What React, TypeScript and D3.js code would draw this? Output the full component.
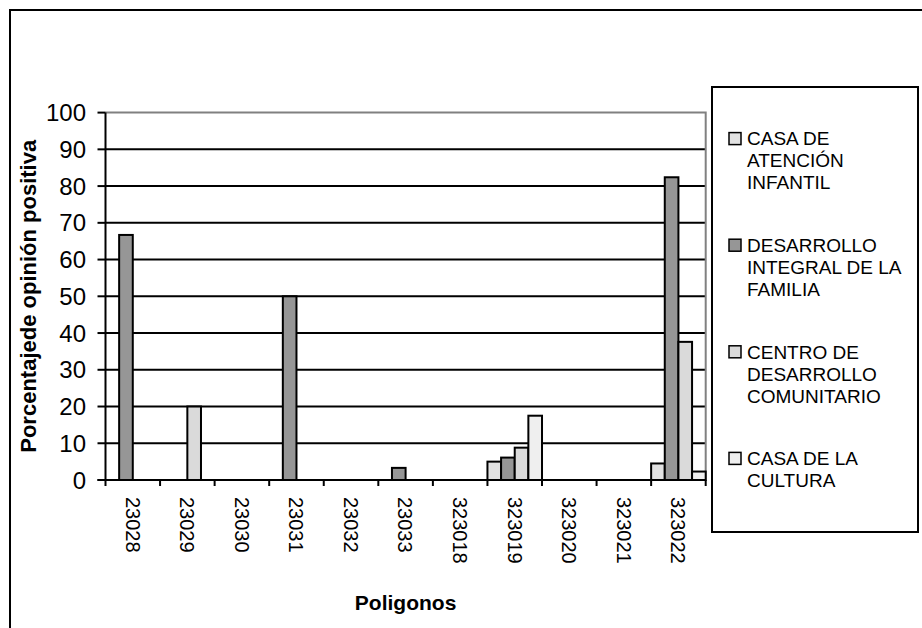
import React from 'react';
import * as d3 from 'd3';

const categories = ['23028', '23029', '23030', '23031', '23032', '23033', '323018', '323019', '323020', '323021', '323022'];
const seriesNames = [
  ['CASA DE', 'ATENCIÓN', 'INFANTIL'],
  ['DESARROLLO', 'INTEGRAL DE LA', 'FAMILIA'],
  ['CENTRO DE', 'DESARROLLO', 'COMUNITARIO'],
  ['CASA DE LA', 'CULTURA'],
];
const casaAtencion = [0, 0, 0, 0, 0, 0, 0, 5, 0, 0, 4.5];
const desarrolloIntegral = [66.7, 0, 0, 50, 0, 3.3, 0, 6.1, 0, 0, 82.4];
const centroDesarrollo = [0, 20, 0, 0, 0, 0, 0, 8.8, 0, 0, 37.6];
const casaCultura = [0, 0, 0, 0, 0, 0, 0, 17.5, 0, 0, 2.3];
const yTicks = [0, 10, 20, 30, 40, 50, 60, 70, 80, 90, 100];
const colors = ['#e2e2e2', '#969696', '#dadada', '#efefef'];

const allSeries = [casaAtencion, desarrolloIntegral, centroDesarrollo, casaCultura];

export default function App() {
  const W = 922, H = 628;
  const left = 105.5, right = 705.7, top = 112.6, bottom = 480;
  const x = d3.scaleBand().domain(categories).range([left, right]).paddingInner(0).paddingOuter(0);
  const xs = d3.scaleBand().domain(d3.range(4).map(String)).range([0, x.bandwidth()]).padding(0);
  const y = d3.scaleLinear().domain([0, 100]).range([bottom, top]);
  const font = 'Liberation Sans, Arial, sans-serif';

  const bars: JSX.Element[] = [];
  allSeries.forEach((vals, si) => {
    vals.forEach((v, ci) => {
      if (v <= 0) return;
      const bx = (x(categories[ci]) as number) + (xs(String(si)) as number);
      bars.push(
        <rect key={`b${si}-${ci}`} x={bx} y={y(v)} width={xs.bandwidth()} height={y(0) - y(v)}
          fill={colors[si]} stroke="#000" strokeWidth={2} />
      );
    });
  });

  const legX = 712, legY = 87, legW = 206, legH = 445;
  const legFont = 19, lineStep = 22;
  const totalLines = d3.sum(seriesNames, s => s.length);
  const gap = (legH - totalLines * lineStep) / (seriesNames.length + 1);
  const groupTops: number[] = [];
  let cur = legY + gap;
  seriesNames.forEach(s => { groupTops.push(cur); cur += s.length * lineStep + gap; });

  return (
    <svg width={W} height={H} style={{ position: 'absolute', left: 0, top: 0, background: '#fff' }} fontFamily={font}>
      <rect x={0} y={0} width={W} height={H} fill="#fff" />
      <path d={`M10,${H + 5} L10,10 L${W + 5},10`} fill="none" stroke="#000" strokeWidth={2} />
      {yTicks.filter(t => t > 0 && t < 100).map(t => (
        <line key={`g${t}`} x1={left} x2={right} y1={y(t)} y2={y(t)} stroke="#000" strokeWidth={2} />
      ))}
      <path d={`M${left},${top} L${right},${top} L${right},${bottom}`} fill="none" stroke="#808080" strokeWidth={2} />
      {bars}
      <line x1={left} x2={left} y1={top} y2={bottom + 6} stroke="#000" strokeWidth={2} />
      <line x1={left - 8} x2={right} y1={bottom} y2={bottom} stroke="#000" strokeWidth={2} />
      {yTicks.map(t => (
        <g key={`yt${t}`}>
          <line x1={left - 8} x2={left} y1={y(t)} y2={y(t)} stroke="#000" strokeWidth={2} />
          <text x={86} y={y(t)} dy="0.36em" textAnchor="end" fontSize={24} fill="#000">{t}</text>
        </g>
      ))}
      {categories.map((c, i) => (
        <line key={`xt${i}`} x1={(x(c) as number) + x.bandwidth()} x2={(x(c) as number) + x.bandwidth()}
          y1={bottom} y2={bottom + 6} stroke="#000" strokeWidth={2} />
      ))}
      {categories.map(c => {
        const cx = (x(c) as number) + x.bandwidth() / 2;
        return (
          <text key={`xl${c}`} transform={`translate(${cx},497) rotate(90)`} dy="0.36em"
            textAnchor="start" fontSize={20} fill="#000">{c}</text>
        );
      })}
      <text x={(left + right) / 2} y={610} textAnchor="middle" fontSize={21} fontWeight="bold" fill="#000">Poligonos</text>
      <text transform={`translate(28,${(top + bottom) / 2}) rotate(-90)`} dy="0.36em" textAnchor="middle"
        fontSize={22} fontWeight="bold" fill="#000">Porcentajede opinión positiva</text>
      <rect x={legX} y={legY} width={legW} height={legH} fill="#fff" stroke="#000" strokeWidth={2} />
      {seriesNames.map((lines, si) => {
        const gy = groupTops[si] + lineStep / 2;
        return (
          <g key={`lg${si}`}>
            <rect x={729} y={gy - 6} width={12} height={12} fill={colors[si]} stroke="#000" strokeWidth={1.5} />
            {lines.map((ln, li) => (
              <text key={li} x={747} y={gy + li * lineStep} dy="0.36em" fontSize={legFont} fill="#000">{ln}</text>
            ))}
          </g>
        );
      })}
    </svg>
  );
}
